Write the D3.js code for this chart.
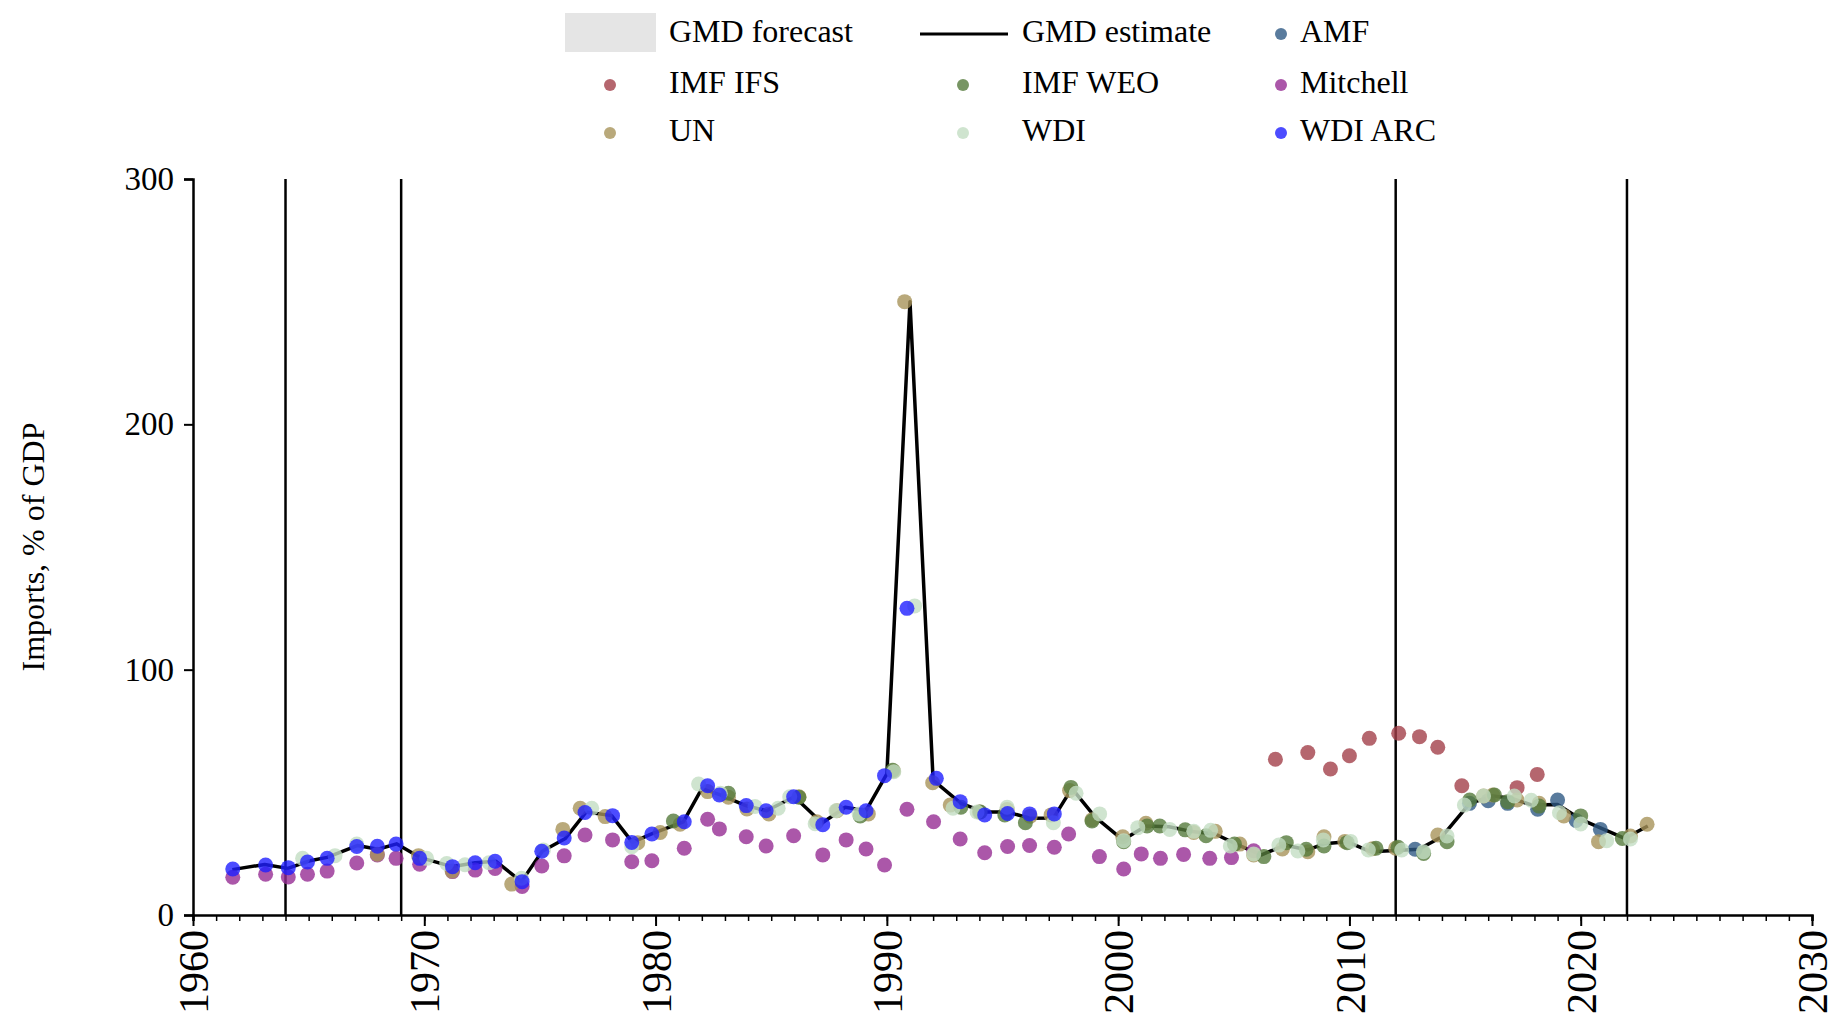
<!DOCTYPE html>
<html>
<head>
<meta charset="utf-8">
<script src="https://cdn.jsdelivr.net/npm/d3@7"></script>
<style>
  body { margin: 0; background: #fff; }
  text { font-family: "Liberation Serif", "Times New Roman", serif; fill: #000; }
</style>
</head>
<body>
<script>
const w = 1837
const h = 1019

// [year, value] pairs
const gmdEstimate = [[1961.7,18.5],[1963.1,20.6],[1964.1,19.0],[1965.0,22.0],[1965.8,23.5],[1967.1,28.3],[1968.0,26.8],[1968.8,29.0],[1969.8,23.5],[1971.2,19.7],[1972.2,21.3],[1973.1,21.9],[1974.2,13.6],[1975.1,26.0],[1976.1,31.2],[1977.0,42.0],[1978.1,40.5],[1979.0,29.6],[1979.8,33.0],[1981.2,38.0],[1982.0,51.5],[1982.8,49.0],[1983.9,44.6],[1984.8,42.5],[1986.0,48.2],[1987.2,37.5],[1988.2,43.9],[1989.1,42.5],[1990.0,57.5],[1991.0,250],[1992.0,55.0],[1993.2,45.5],[1994.2,42.0],[1995.2,42.0],[1996.2,39.4],[1997.2,39.5],[1998.0,51.6],[1999.0,40.0],[2000.2,30.6],[2001.2,36.3],[2002.2,36.0],[2003.2,34.0],[2004.2,33.0],[2005.2,28.5],[2006.2,24.5],[2007.2,28.5],[2008.2,26.5],[2008.9,29.0],[2009.9,29.9],[2010.9,25.8],[2012.0,26.3],[2013.0,26.8],[2014.0,31.9],[2015.2,45.5],[2016.2,48.5],[2017.0,47.6],[2017.9,44.8],[2019.0,45.0],[2020.0,39.0],[2020.9,35.3],[2021.9,31.2],[2022.9,36.3]]

const imfIfs = [[2006.8,63.5],[2008.2,66.2],[2009.18,59.5],[2010.0,64.9],[2010.86,72.0],[2012.13,74.1],[2013.03,72.7],[2013.82,68.4],[2014.86,52.7],[2017.25,51.9],[2018.12,57.3]]

const amf = [[2012.84,26.8],[2015.19,45.5],[2016.0,46.6],[2016.84,45.5],[2018.14,43.1],[2019.0,46.9],[2019.8,38.5],[2020.85,34.9]]

const mitchell = [[1961.72,15.4],[1963.14,16.6],[1964.12,15.5],[1964.95,16.6],[1965.8,17.9],[1967.08,21.2],[1967.97,24.5],[1968.78,23.1],[1969.8,20.7],[1971.22,17.7],[1972.2,18.3],[1973.06,19.0],[1974.23,11.6],[1975.08,20.0],[1976.05,24.1],[1976.95,32.6],[1978.14,30.6],[1978.97,21.7],[1979.84,22.1],[1981.24,27.2],[1982.25,39.0],[1982.76,35.1],[1983.92,31.9],[1984.78,28.1],[1985.97,32.3],[1987.23,24.5],[1988.24,30.6],[1989.1,26.9],[1989.9,20.4],[1990.87,43.1],[1992.02,38.0],[1993.17,31.0],[1994.23,25.4],[1995.22,27.9],[1996.17,28.3],[1997.24,27.6],[1997.86,33.0],[1999.19,23.8],[2000.24,18.75],[2001.0,24.9],[2001.83,23.1],[2002.83,24.7],[2003.96,23.1],[2004.9,23.4],[2005.86,26.2]]

const un = [[1967.97,24.8],[1969.75,24.2],[1971.2,17.9],[1973.78,12.6],[1975.99,34.9],[1976.74,43.5],[1977.82,40.1],[1979.23,29.5],[1980.2,33.6],[1981.06,37.0],[1982.25,50.3],[1983.15,48.0],[1983.95,43.2],[1984.9,41.2],[1986.2,48.2],[1986.97,38.0],[1987.84,42.5],[1989.2,41.2],[1990.29,58.7],[1990.77,250],[1991.98,53.9],[1992.74,44.8],[1994.0,42.0],[1995.2,43.0],[1996.2,40.3],[1997.1,40.8],[1997.9,50.7],[1998.87,38.8],[2000.2,31.9],[2001.2,37.4],[2003.27,33.6],[2004.2,34.1],[2005.26,28.9],[2005.86,24.5],[2007.1,26.9],[2008.2,25.8],[2008.9,31.9],[2009.8,30.0],[2011.0,27.0],[2012.0,27.2],[2013.82,32.6],[2015.8,48.5],[2016.2,48.9],[2017.25,46.9],[2018.2,45.5],[2019.27,40.4],[2020.77,29.9],[2022.15,32.2],[2022.87,37.0]]

const imfWeo = [[1980.77,38.3],[1983.15,49.6],[1986.2,48.0],[1988.85,40.4],[1990.25,59.0],[1993.2,43.9],[1994.04,42.0],[1995.1,40.8],[1995.99,37.6],[1997.96,52.0],[1998.87,38.3],[2000.24,29.9],[2001.25,36.3],[2001.8,36.3],[2002.9,34.7],[2003.8,32.3],[2005.03,28.9],[2006.3,23.8],[2007.27,29.5],[2008.13,26.8],[2008.9,28.1],[2009.9,29.5],[2011.15,27.2],[2012.1,27.6],[2013.21,25.1],[2014.22,29.9],[2015.2,46.9],[2016.27,48.9],[2016.84,46.2],[2018.2,44.4],[2020.0,40.4],[2021.8,31.2]]

const wdi = [[1964.74,23.1],[1966.14,24.2],[1967.08,28.9],[1970.1,23.1],[1970.97,21.0],[1971.76,20.5],[1972.8,21.3],[1974.2,15.0],[1975.15,26.5],[1977.24,43.5],[1978.97,27.8],[1981.86,53.4],[1982.8,49.6],[1984.3,44.2],[1985.3,43.5],[1985.8,48.2],[1986.9,37.2],[1987.8,42.5],[1988.8,41.2],[1990.3,58.4],[1991.2,126],[1992.86,43.5],[1993.9,42.0],[1995.2,43.9],[1997.2,37.6],[1998.18,49.6],[1999.2,41.2],[2000.24,30.3],[2000.85,35.6],[2002.23,34.9],[2003.27,34.1],[2004.0,34.5],[2004.85,28.1],[2005.86,24.9],[2006.95,28.5],[2007.77,26.1],[2008.87,30.6],[2010.05,30.0],[2010.82,26.5],[2012.26,26.5],[2013.2,25.8],[2014.22,32.2],[2014.97,44.8],[2015.8,48.5],[2017.13,48.5],[2017.86,46.8],[2019.08,41.7],[2020.0,37.1],[2021.12,30.3],[2022.15,31.0]]

const wdiArc = [[1961.72,18.75],[1963.14,20.4],[1964.12,19.3],[1964.95,21.6],[1965.8,23.1],[1967.08,27.9],[1967.97,28.0],[1968.78,28.9],[1969.8,23.1],[1971.22,19.7],[1972.2,21.3],[1973.06,21.9],[1974.23,13.6],[1975.08,26.0],[1976.05,31.4],[1976.95,41.8],[1978.14,40.5],[1978.97,29.6],[1979.84,33.0],[1981.24,38.0],[1982.25,52.7],[1982.76,48.9],[1983.92,44.6],[1984.78,42.5],[1985.97,48.2],[1987.23,36.8],[1988.24,43.9],[1989.1,42.5],[1989.9,56.8],[1990.87,125],[1992.14,55.7],[1993.17,46.2],[1994.23,40.8],[1995.22,41.4],[1996.17,41.2],[1997.24,41.2]]

const markerYears = [1964, 1969, 2012, 2022]
const xTicks = [1960, 1970, 1980, 1990, 2000, 2010, 2020, 2030]
const yTicks = [0, 100, 200, 300]

// draw order: bottom to top
const sources = [
    { name: 'IMF IFS', data: imfIfs, color: '#a3404a' },
    { name: 'AMF', data: amf, color: '#2f5a84' },
    { name: 'Mitchell', data: mitchell, color: '#962d94' },
    { name: 'UN', data: un, color: '#a8935a' },
    { name: 'IMF WEO', data: imfWeo, color: '#557a3c' },
    { name: 'WDI', data: wdi, color: '#c3ddc3' },
    { name: 'WDI ARC', data: wdiArc, color: '#1f1fff' }
]

const margin = { left: 193, right: 25, top: 179, bottom: 104 }

const xScale = d3.scaleLinear()
    .domain([1960, 2030])
    .range([margin.left, w - margin.right])

const yScale = d3.scaleLinear()
    .domain([0, 300])
    .range([h - margin.bottom, margin.top])

const svg = d3.select('body').append('svg')
    .attr('width', w)
    .attr('height', h)

// vertical marker lines
svg.append('g').selectAll('line')
    .data(markerYears)
    .enter().append('line')
    .attr('x1', d => xScale(d)).attr('x2', d => xScale(d))
    .attr('y1', yScale(0)).attr('y2', yScale(300))
    .attr('stroke', '#000').attr('stroke-width', 2.5)

// axes
const xMinor = d3.axisBottom(xScale)
    .tickValues(d3.range(1960, 2031, 1))
    .tickSize(6).tickFormat('')
svg.append('g')
    .attr('transform', `translate(0,${yScale(0)})`)
    .call(xMinor)
    .call(g => g.select('.domain').attr('stroke-width', 2.5))
    .call(g => g.selectAll('.tick line').attr('stroke-width', 1.5))

const xAxis = svg.append('g')
    .attr('transform', `translate(0,${yScale(0)})`)
    .call(d3.axisBottom(xScale).tickValues(xTicks).tickSize(11).tickFormat(d3.format('d')))
xAxis.select('.domain').remove()
xAxis.selectAll('.tick line').attr('stroke-width', 2)
xAxis.selectAll('text')
    .attr('font-size', 42)
    .attr('font-family', '"Liberation Serif", serif')
    .attr('transform', 'rotate(-90)')
    .attr('text-anchor', 'end')
    .attr('x', -15)
    .attr('y', 0)
    .attr('dy', '0.35em')

const yAxis = svg.append('g')
    .attr('transform', `translate(${margin.left},0)`)
    .call(d3.axisLeft(yScale).tickValues(yTicks).tickSize(9).tickPadding(10))
yAxis.select('.domain').attr('stroke-width', 2.5)
yAxis.selectAll('.tick line').attr('stroke-width', 2)
yAxis.selectAll('text')
    .attr('font-size', 33)
    .attr('font-family', '"Liberation Serif", serif')

svg.append('text')
    .attr('transform', `translate(37,${(yScale(0) + yScale(300)) / 2}) rotate(-90)`)
    .attr('text-anchor', 'middle')
    .attr('dominant-baseline', 'middle')
    .attr('font-size', 32)
    .text('Imports, % of GDP')

// GMD estimate line
const lineFun = d3.line()
    .x(d => xScale(d[0]))
    .y(d => yScale(d[1]))
    .curve(d3.curveLinear)

svg.append('path')
    .attr('d', lineFun(gmdEstimate))
    .attr('stroke', '#000')
    .attr('stroke-width', 3.5)
    .attr('stroke-linejoin', 'round')
    .attr('fill', 'none')

// source dots
sources.forEach(function (s) {
    svg.append('g').selectAll('circle')
        .data(s.data)
        .enter().append('circle')
        .attr('cx', d => xScale(d[0]))
        .attr('cy', d => yScale(d[1]))
        .attr('r', 7.5)
        .attr('fill', s.color)
        .attr('fill-opacity', 0.8)
})

// legend
const legend = svg.append('g').attr('font-size', 32)
const colX = [610, 963, 1281]
const textX = [669, 1022, 1300]
const rowY = [35, 86, 134]

legend.append('rect')
    .attr('x', 565).attr('y', 13).attr('width', 91).attr('height', 39)
    .attr('fill', '#e5e5e5')
legend.append('text').attr('x', textX[0]).attr('y', rowY[0])
    .attr('dominant-baseline', 'middle').text('GMD forecast')

legend.append('line')
    .attr('x1', 920).attr('x2', 1008).attr('y1', rowY[0] - 1).attr('y2', rowY[0] - 1)
    .attr('stroke', '#000').attr('stroke-width', 3)
legend.append('text').attr('x', textX[1]).attr('y', rowY[0])
    .attr('dominant-baseline', 'middle').text('GMD estimate')

const legendDots = [
    { name: 'AMF', col: 2, row: 0 },
    { name: 'IMF IFS', col: 0, row: 1 },
    { name: 'IMF WEO', col: 1, row: 1 },
    { name: 'Mitchell', col: 2, row: 1 },
    { name: 'UN', col: 0, row: 2 },
    { name: 'WDI', col: 1, row: 2 },
    { name: 'WDI ARC', col: 2, row: 2 }
]
legendDots.forEach(function (l) {
    const src = sources.find(s => s.name === l.name)
    legend.append('circle')
        .attr('cx', colX[l.col]).attr('cy', rowY[l.row] - 1).attr('r', 6)
        .attr('fill', src.color).attr('fill-opacity', 0.8)
    legend.append('text')
        .attr('x', textX[l.col]).attr('y', rowY[l.row])
        .attr('dominant-baseline', 'middle')
        .text(l.name)
})
</script>
</body>
</html>
